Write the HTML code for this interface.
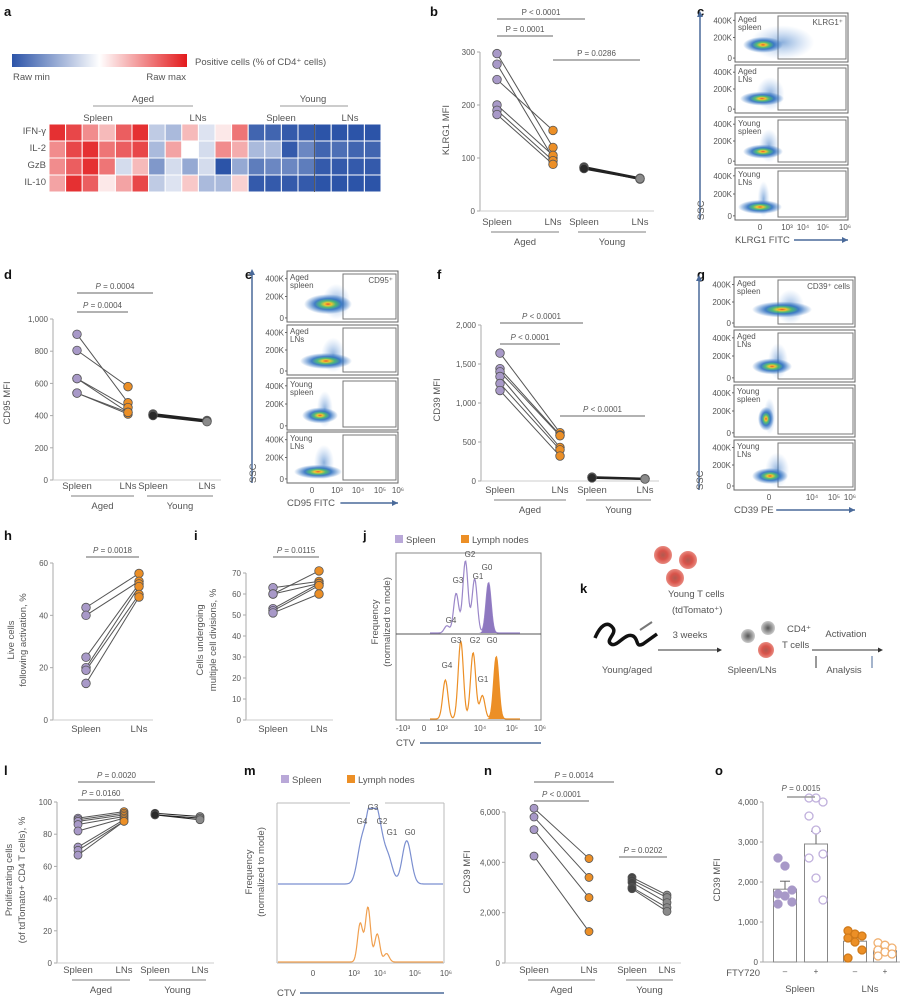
<!DOCTYPE html>
<html><head><meta charset="utf-8">
<style>
html,body{margin:0;padding:0;background:#fff;}
svg{display:block;font-family:"Liberation Sans",sans-serif;}
text{fill:#555;}
.let{font-weight:bold;font-size:13px;fill:#111;}
.tk{font-size:8px;}
.lb{font-size:9.5px;}
</style></head>
<body>
<svg id="fig" width="905" height="1000" viewBox="0 0 905 1000" xmlns="http://www.w3.org/2000/svg">
<defs>
<linearGradient id="cbar" x1="0" x2="1"><stop offset="0" stop-color="#2c54a8"/><stop offset="0.5" stop-color="#ffffff"/><stop offset="1" stop-color="#e31a1c"/></linearGradient>
<radialGradient id="blob"><stop offset="0" stop-color="#e8401c"/><stop offset="0.15" stop-color="#f2c21a"/><stop offset="0.33" stop-color="#3fb56a"/><stop offset="0.55" stop-color="#2d6fc0"/><stop offset="1" stop-color="#2d6fc0" stop-opacity="0"/></radialGradient>
<radialGradient id="blob2"><stop offset="0" stop-color="#2d6fc0" stop-opacity="0.55"/><stop offset="1" stop-color="#6fa0e0" stop-opacity="0"/></radialGradient>
<radialGradient id="cellR"><stop offset="0" stop-color="#b05a50"/><stop offset="0.5" stop-color="#d9534a"/><stop offset="1" stop-color="#e88a80"/></radialGradient>
<radialGradient id="cellG"><stop offset="0" stop-color="#555"/><stop offset="1" stop-color="#ccc"/></radialGradient>
</defs>
<g id="root"></g>
</svg>
<script>
// ===== Data arrays =====
const heatRows=['IFN-γ','IL-2','GzB','IL-10'];
const heatIFN=[.95,.9,.75,.65,.85,.95,.35,.3,.65,.42,.55,.8,.05,.05,.02,.02,0,0,0,0];
const heatIL2=[.75,.9,.95,.8,.85,.9,.3,.7,.5,.4,.75,.68,.3,.3,.02,.15,.05,.08,.05,.05];
const heatGZB=[.75,.85,.95,.8,.4,.65,.2,.4,.25,.4,0,.25,.12,.15,.15,.12,.02,.02,.02,.02];
const heatIL10=[.7,.95,.85,.55,.7,.9,.35,.42,.62,.3,.3,.6,.02,.02,.02,.02,0,0,0,0];

const catLabels4=['Spleen','LNs','Spleen','LNs'];
const catLabels2=['Spleen','LNs'];
const groupLabels=['Aged','Young'];

const bTicks=[0,100,200,300];
const bAgedSpleen=[297,277,248,200,190,182];
const bAgedLN=[120,100,152,105,95,88];
const bYoungSpleen=[83,82,80];
const bYoungLN=[62,60,61];

const dTicks=[0,200,400,600,800,1000];
const dAgedSpleen=[905,805,630,630,540,540];
const dAgedLN=[480,580,450,420,410,420];
const dYoungSpleen=[410,405,400];
const dYoungLN=[370,365,362];

const fTicks=[0,500,1000,1500,2000];
const fAgedSpleen=[1640,1440,1400,1340,1250,1160];
const fAgedLN=[620,590,580,430,400,320];
const fYoungSpleen=[50,45,40];
const fYoungLN=[30,28,25];

const hTicks=[0,20,40,60];
const hSpleen=[43,40,24,20,19,14];
const hLN=[56,53,52,51,48,47];

const iTicks=[0,10,20,30,40,50,60,70];
const iSpleen=[63,60,60,53,52,51];
const iLN=[66,71,65,65,64,60];

const lTicks=[0,20,40,60,80,100];
const lAgedSpleen=[90,89,88,86,82,72,70,67];
const lAgedLN=[94,93,92,91,90,89,88,88];
const lYoungSpleen=[93,92,92];
const lYoungLN=[91,90,89];

const nTicks=[0,2000,4000,6000];
const nAgedSpleen=[6150,5800,5300,4250];
const nAgedLN=[4150,3400,2600,1250];
const nYoungSpleen=[3400,3300,3200,3000,2950];
const nYoungLN=[2700,2600,2400,2200,2050];

const oTicks=[0,1000,2000,3000,4000];
const oMeans=[1820,2950,520,280];
const oSEM=[200,320,90,60];
const oSplMinus=[2600,2400,1800,1700,1650,1500,1450];
const oSplPlus=[4100,4100,4000,3650,3300,2700,2600,2100,1550];
const oLNMinus=[780,700,650,600,500,300,100];
const oLNPlus=[480,420,350,300,250,200,150];

// histogram peaks: [log-position (CTV decade units), relative height]
const jSpleenPeaks=[[2.95,0.1],[3.25,0.55],[3.55,1.0],[3.85,0.75],[4.3,0.7]];
const jLNPeaks=[[2.9,0.5],[3.4,1.0],[3.8,0.85],[4.1,0.3],[4.55,0.8]];
const mSpleenPeaks=[[3.25,0.55],[3.55,1.0],[3.8,0.7],[4.1,0.35],[4.7,0.6]];
const mLNPeaks=[[3.2,0.55],[3.45,0.78],[3.75,0.4],[4.05,0.12]];

// ===== helpers =====
const NS='http://www.w3.org/2000/svg';
const root=document.getElementById('root');
function mk(tag,attrs,parent,txt){const e=document.createElementNS(NS,tag);for(const k in attrs)e.setAttribute(k,attrs[k]);if(txt!==undefined)e.textContent=txt;(parent||root).appendChild(e);return e;}
function txt(x,y,s,cls,anchor,parent,extra){const a={x:x,y:y,class:cls||'tk','text-anchor':anchor||'start'};if(extra)for(const k in extra)a[k]=extra[k];return mk('text',a,parent,s);}
function fmt(v){return v>=1000?v.toLocaleString('en-US'):String(v);}
function letter(s,x,y){const t=txt(x,y,s,'let');}

// ===== Panel a: heatmap =====
letter('a',4,16);
const gA=mk('g',{});


const cb=mk('rect',{x:12,y:54,width:175,height:13,fill:'url(#cbar)'},gA);


txt(195,65,'Positive cells (% of CD4⁺ cells)','lb','start',gA);
txt(13,80,'Raw min','lb','start',gA);
txt(186,80,'Raw max','lb','end',gA);
txt(143,102,groupLabels[0],'lb','middle',gA);mk('line',{x1:93,x2:193,y1:106,y2:106,stroke:'#999'},gA);
txt(313,102,groupLabels[1],'lb','middle',gA);mk('line',{x1:280,x2:348,y1:106,y2:106,stroke:'#999'},gA);
txt(98,121,'Spleen','lb','middle',gA);txt(198,121,'LNs','lb','middle',gA);
txt(281,121,'Spleen','lb','middle',gA);txt(350,121,'LNs','lb','middle',gA);
function heatColor(v){let r,g,b;if(v<.5){const t=v/.5;r=44+(255-44)*t;g=84+(255-84)*t;b=168+(255-168)*t;}else{const t=(v-.5)/.5;r=255+(227-255)*t;g=255+(26-255)*t;b=255+(28-255)*t;}return `rgb(${r|0},${g|0},${b|0})`;}
[heatIFN,heatIL2,heatGZB,heatIL10].forEach((row,ri)=>{
  txt(46,131+ri*17+3,heatRows[ri],'lb','end',gA);
  row.forEach((v,ci)=>{
    const c=mk('rect',{x:49+ci*16.6,y:124+ri*17,width:16.6,height:17,fill:heatColor(v),stroke:'#fff','stroke-width':1},gA);
    
    
  });
});
mk('line',{x1:49+16*16.6,x2:49+16*16.6,y1:124,y2:192,stroke:'#333','stroke-width':0.8},gA);

// ===== paired plot =====
const COLS={purple:'#a899c8',orange:'#ec8f26',dark:'#2a2a2a',grey:'#8a8a8a'};
function paired(o){
  const g=mk('g',{});
  
  
  const y=v=>o.y0-(v/o.max)*(o.y0-o.yTop);
  const yMaxTick=o.ticks[o.ticks.length-1];
  mk('line',{x1:o.ax,x2:o.ax,y1:y(yMaxTick),y2:o.y0,stroke:'#aaa'},g);
  mk('line',{x1:o.ax,x2:o.xs[o.xs.length-1]+14,y1:o.y0,y2:o.y0,stroke:'#ccc'},g);
  o.ticks.forEach(t=>{mk('line',{x1:o.ax-3,x2:o.ax,y1:y(t),y2:y(t),stroke:'#aaa'},g);txt(o.ax-5,y(t)+3,fmt(t),'tk','end',g);});
  o.cats.forEach((c,i)=>txt(o.xs[i],o.y0+o.labOff,c,'lb','middle',g));
  if(o.groups){
    [[0,1],[2,3]].forEach((p,gi)=>{const xa=o.xs[p[0]]-6,xb=o.xs[p[1]]+6;
      mk('line',{x1:xa,x2:xb,y1:o.y0+o.labOff+7,y2:o.y0+o.labOff+7,stroke:'#aaa','stroke-width':1.5},g);
      txt((xa+xb)/2,o.y0+o.labOff+20,groupLabels[gi],'lb','middle',g);});
  }
  o.sets.forEach(s=>{
    s.a.forEach((v,k)=>{const l=mk('line',{x1:o.xs[s.i],y1:y(v),x2:o.xs[s.i+1],y2:y(s.b[k]),stroke:s.lc||'#555','stroke-width':s.lw||1},g);
      
      });
  });
  o.sets.forEach(s=>{
    [[s.a,s.i,s.ca],[s.b,s.i+1,s.cb]].forEach(([arr,xi,col])=>arr.forEach(v=>{
      const p=mk('circle',{cx:o.xs[xi],cy:y(v),r:o.r||4.3,fill:col,stroke:'#555','stroke-width':0.8},g);
      
      }));
  });
  (o.sig||[]).forEach(sg=>{
    mk('line',{x1:sg[0],x2:sg[1],y1:sg[2],y2:sg[2],stroke:'#999','stroke-width':1.5},g);
    const t=mk('text',{x:(sg[0]+sg[1])/2,y:sg[2]-4,class:'tk','text-anchor':'middle'},g);
    if(o.italicP){mk('tspan',{'font-style':'italic'},t,'P');mk('tspan',{},t,' '+sg[3]);}else t.textContent='P '+sg[3];
  });
  (o.ylab||[]).forEach(l=>txt(0,0,l[2],'lb','middle',g,{transform:`translate(${l[0]},${l[1]}) rotate(-90)`}));
  return g;
}

// ===== Panel b =====
letter('b',430,16);
paired({name:'klrg1-mfi-chart',ax:480,y0:211,yTop:52,max:300,ticks:bTicks,xs:[497,553,584,640],cats:catLabels4,groups:true,labOff:14,
  sets:[{a:bAgedSpleen,b:bAgedLN,i:0,ca:COLS.purple,cb:COLS.orange},{a:bYoungSpleen,b:bYoungLN,i:2,ca:COLS.dark,cb:COLS.grey,lc:'#222',lw:2}],
  sig:[[497,585,19,'< 0.0001'],[497,553,36,'= 0.0001'],[553,640,60,'= 0.0286']],ylab:[[449,130,'KLRG1 MFI']]});

// ===== flow plot panels =====
function flow(o){
  const g=mk('g',{});
  
  
  o.rows.forEach((r,ri)=>{
    const [t,b]=r;
    mk('rect',{x:o.x1,y:t,width:o.x2-o.x1,height:b-t,fill:'#fff',stroke:'#666','stroke-width':1},g);
    mk('rect',{x:o.gx,y:t+3,width:o.x2-o.gx-2,height:b-t-6,fill:'none',stroke:'#777','stroke-width':1},g);
    const h=b-t;
    [['400K',.15],['200K',.5],['0',.92]].forEach(([s,f])=>{txt(o.x1-3,t+h*f+3,s,'tk','end',g).setAttribute('font-size','6.5');mk('line',{x1:o.x1-2,x2:o.x1,y1:t+h*f,y2:t+h*f,stroke:'#666'},g);});
    const bl=o.blobs[ri];
    if(bl.spread) mk('ellipse',{cx:bl.x+bl.spread*0.6,cy:t+h*0.6,rx:bl.spread,ry:h*0.35,fill:'url(#blob2)'},g);
    mk('ellipse',{cx:bl.x,cy:t+h*bl.y,rx:bl.rx,ry:bl.ry,fill:'url(#blob)',opacity:0.9},g);
    txt(o.x1+3,t+9,o.labels[ri][0],'tk','start',g).setAttribute('font-size','7');
    txt(o.x1+3,t+17,o.labels[ri][1],'tk','start',g).setAttribute('font-size','7');
  });
  if(o.gateLabel) txt(o.x2-5,o.rows[0][0]+12,o.gateLabel,'tk','end',g).setAttribute('font-size','6.5');
  const yb=o.rows[o.rows.length-1][1];
  o.xt.forEach(([s,x])=>txt(x,yb+10,s,'tk','middle',g).setAttribute('font-size','6.5'));
  txt(o.x1,yb+23,o.xlabel,'lb','start',g);
  const tw=o.xlabel.length*5.6;
  mk('line',{x1:o.x1+tw+3,x2:o.x2,y1:yb+20,y2:yb+20,stroke:'#4a6a9a','stroke-width':1.5},g);
  mk('path',{d:`M${o.x2},${yb+20} l-6,-3 v6 z`,fill:'#4a6a9a'},g);
  mk('line',{x1:o.x1-35,x2:o.x1-35,y1:yb,y2:o.rows[0][0]+2,stroke:'#4a6a9a','stroke-width':1.5},g);
  mk('path',{d:`M${o.x1-35},${o.rows[0][0]-2} l-3,6 h6 z`,fill:'#4a6a9a'},g);
  txt(0,0,'SSC','lb','start',g,{transform:`translate(${o.x1-31},${yb}) rotate(-90)`});
}
const flowLabels=[['Aged','spleen'],['Aged','LNs'],['Young','spleen'],['Young','LNs']];
letter('c',697,16);
flow({name:'klrg1-flow-plots',x1:735,x2:848,gx:778,rows:[[13,62],[65,113],[117,165],[168,220]],labels:flowLabels,gateLabel:'KLRG1⁺',xlabel:'KLRG1 FITC',
  xt:[['0',760],['10³',787],['10⁴',803],['10⁵',823],['10⁶',845]],
  blobs:[{x:763,y:.65,rx:20,ry:8,spread:32},{x:762,y:.7,rx:22,ry:7,spread:14},{x:763,y:.72,rx:20,ry:7,spread:10},{x:760,y:.75,rx:22,ry:7,spread:6}]});
letter('e',245,279);
flow({name:'cd95-flow-plots',x1:287,x2:398,gx:343,rows:[[271,322],[325,375],[378,430],[432,483]],labels:flowLabels,gateLabel:'CD95⁺',xlabel:'CD95 FITC',
  xt:[['0',312],['10³',337],['10⁴',358],['10⁵',380],['10⁶',398]],
  blobs:[{x:328,y:.65,rx:24,ry:10,spread:14},{x:326,y:.72,rx:26,ry:8,spread:12},{x:320,y:.72,rx:18,ry:8,spread:8},{x:318,y:.78,rx:24,ry:7,spread:10}]});
letter('g',697,279);
flow({name:'cd39-flow-plots',x1:734,x2:855,gx:778,rows:[[277,327],[330,382],[385,437],[440,490]],labels:flowLabels,gateLabel:'CD39⁺ cells',xlabel:'CD39 PE',
  xt:[['0',769],['10⁴',812],['10⁵',834],['10⁶',850]],
  blobs:[{x:782,y:.65,rx:30,ry:8,spread:14},{x:772,y:.7,rx:20,ry:8,spread:10},{x:766,y:.65,rx:8,ry:12,spread:6},{x:770,y:.72,rx:18,ry:8,spread:12}]});

// ===== Panel d =====
letter('d',4,279);
paired({name:'cd95-mfi-chart',ax:53,y0:480,yTop:319,max:1000,ticks:dTicks,xs:[77,128,153,207],cats:catLabels4,groups:true,labOff:9,italicP:true,
  sets:[{a:dAgedSpleen,b:dAgedLN,i:0,ca:COLS.purple,cb:COLS.orange},{a:dYoungSpleen,b:dYoungLN,i:2,ca:COLS.dark,cb:COLS.grey,lc:'#222',lw:2}],
  sig:[[77,153,293,'= 0.0004'],[77,128,312,'= 0.0004']],ylab:[[10,403,'CD95 MFI']]});

// ===== Panel f =====
letter('f',437,279);
paired({name:'cd39-mfi-chart-aged-young',ax:481,y0:481,yTop:325,max:2000,ticks:fTicks,xs:[500,560,592,645],cats:catLabels4,groups:true,labOff:12,italicP:true,
  sets:[{a:fAgedSpleen,b:fAgedLN,i:0,ca:COLS.purple,cb:COLS.orange},{a:fYoungSpleen,b:fYoungLN,i:2,ca:COLS.dark,cb:COLS.grey,lc:'#222',lw:2}],
  sig:[[500,583,323,'< 0.0001'],[500,560,344,'< 0.0001'],[560,645,416,'< 0.0001']],ylab:[[440,400,'CD39 MFI']]});

// ===== Panel h & i =====
letter('h',4,540);
paired({name:'live-cells-chart',ax:53,y0:720,yTop:563,max:60,ticks:hTicks,xs:[86,139],cats:catLabels2,labOff:12,italicP:true,
  sets:[{a:hSpleen,b:hLN,i:0,ca:COLS.purple,cb:COLS.orange}],sig:[[86,139,557,'= 0.0018']],
  ylab:[[14,640,'Live cells'],[26,640,'following activation, %']]});
letter('i',194,540);
paired({name:'cell-divisions-chart',ax:246,y0:720,yTop:573,max:70,ticks:iTicks,xs:[273,319],cats:catLabels2,labOff:12,italicP:true,
  sets:[{a:iSpleen,b:iLN,i:0,ca:COLS.purple,cb:COLS.orange}],sig:[[273,319,557,'= 0.0115']],
  ylab:[[203,640,'Cells undergoing'],[216,640,'multiple cell divisions, %']]});

// ===== histograms =====
function histPath(peaks,xOf,base,hgt,w,x0,x1){
  let d=`M${x0},${base}`;
  for(let x=x0;x<=x1;x+=0.7){let s=0;peaks.forEach(p=>{const dx=(x-xOf(p[0]))/w;s+=p[1]*Math.exp(-dx*dx/2);});d+=` L${x.toFixed(1)},${(base-Math.min(s,1.05)*hgt).toFixed(1)}`;}
  return d+` L${x1},${base}`;
}
function legend(x,y,g){
  mk('rect',{x:x,y:y-8,width:8,height:8,fill:'#b9a8d8'},g);txt(x+11,y,'Spleen','lb','start',g);
  mk('rect',{x:x+66,y:y-8,width:8,height:8,fill:'#ec8f26'},g);txt(x+77,y,'Lymph nodes','lb','start',g);
}
letter('j',363,540);
const gJ=mk('g',{});


legend(395,543,gJ);
const jx=v=>396+(v-1.3)*(541-396)/(6-1.3);
mk('rect',{x:396,y:553,width:145,height:167,fill:'none',stroke:'#888'},gJ);
mk('line',{x1:396,x2:541,y1:634,y2:634,stroke:'#555'},gJ);
mk('path',{d:histPath(jSpleenPeaks,jx,633,72,2.6,430,520),fill:'none',stroke:'#9b87c9','stroke-width':1.2},gJ);
mk('path',{d:histPath(jSpleenPeaks.slice(4),jx,633,72,2.6,478,520),fill:'#8e78c0',stroke:'none'},gJ);
mk('path',{d:histPath(jLNPeaks,jx,719,78,2.6,430,520),fill:'none',stroke:'#ec8f26','stroke-width':1.2},gJ);
mk('path',{d:histPath(jLNPeaks.slice(4),jx,719,78,2.6,480,520),fill:'#ec8f26',stroke:'none'},gJ);
[['G2',470,557],['G3',458,583],['G1',478,579],['G0',487,570],['G4',451,623],['G3',456,643],['G2',475,643],['G0',492,643],['G4',447,668],['G1',483,682]].forEach(a=>txt(a[1],a[2],a[0],'tk','middle',gJ));
[['-10³',403],['0',424],['10³',442],['10⁴',480],['10⁵',512],['10⁶',540]].forEach(a=>txt(a[1],731,a[0],'tk','middle',gJ));
txt(396,746,'CTV','lb','start',gJ);
mk('line',{x1:420,x2:541,y1:743,y2:743,stroke:'#4a6a9a','stroke-width':1.5},gJ);
txt(0,0,'Frequency','lb','middle',gJ,{transform:'translate(378,622) rotate(-90)'});
txt(0,0,'(normalized to mode)','lb','middle',gJ,{transform:'translate(390,622) rotate(-90)'});

// ===== Panel k schematic =====
letter('k',580,593);
const gK=mk('g',{});


[[663,555],[688,560],[675,578]].forEach(c=>mk('circle',{cx:c[0],cy:c[1],r:9,fill:'url(#cellR)'},gK));
txt(668,597,'Young T cells','lb','start',gK);txt(672,613,'(tdTomato⁺)','lb','start',gK);
mk('path',{d:'M595,638 c5,-12 12,-18 18,-10 c4,6 -8,12 -2,16 c6,4 14,-12 22,-8 c6,3 2,12 10,8 l14,-10',fill:'none',stroke:'#111','stroke-width':3.5},gK);
mk('line',{x1:640,x2:652,y1:630,y2:622,stroke:'#777','stroke-width':2},gK);
txt(690,638,'3 weeks','lb','middle',gK);
mk('line',{x1:658,x2:720,y1:650,y2:650,stroke:'#333'},gK);mk('path',{d:'M722,650 l-5,-2.5 v5 z',fill:'#333'},gK);
mk('circle',{cx:748,cy:636,r:7,fill:'url(#cellG)'},gK);mk('circle',{cx:768,cy:628,r:7,fill:'url(#cellG)'},gK);mk('circle',{cx:766,cy:650,r:8,fill:'url(#cellR)'},gK);
txt(787,632,'CD4⁺','lb','start',gK);txt(782,648,'T cells','lb','start',gK);
txt(846,637,'Activation','lb','middle',gK);
mk('line',{x1:812,x2:880,y1:650,y2:650,stroke:'#333'},gK);mk('path',{d:'M883,650 l-5,-2.5 v5 z',fill:'#333'},gK);
mk('line',{x1:816,x2:816,y1:668,y2:656,stroke:'#333'},gK);mk('line',{x1:872,x2:872,y1:668,y2:656,stroke:'#4a6a9a'},gK);
txt(627,673,'Young/aged','lb','middle',gK);txt(752,673,'Spleen/LNs','lb','middle',gK);txt(844,673,'Analysis','lb','middle',gK);

// ===== Panel l =====
letter('l',4,775);
paired({name:'proliferating-cells-chart',ax:57,y0:963,yTop:802,max:100,ticks:lTicks,xs:[78,124,155,200],cats:catLabels4,groups:true,labOff:10,italicP:true,r:4,
  sets:[{a:lAgedSpleen,b:lAgedLN,i:0,ca:COLS.purple,cb:COLS.orange},{a:lYoungSpleen,b:lYoungLN,i:2,ca:COLS.dark,cb:COLS.grey,lc:'#222'}],
  sig:[[78,155,782,'= 0.0020'],[78,124,800,'= 0.0160']],
  ylab:[[12,880,'Proliferating cells'],[25,880,'(of tdTomato+ CD4 T cells), %']]});

// ===== Panel m =====
letter('m',244,775);
const gM=mk('g',{});


legend(281,783,gM);
const mxs=v=>v<3?313+(v-2)*41:354+(v-3)*((447-354)/3);
mk('line',{x1:277,x2:350,y1:803,y2:803,stroke:'#bbb'},gM);mk('line',{x1:385,x2:444,y1:803,y2:803,stroke:'#bbb'},gM);
mk('line',{x1:277,x2:277,y1:803,y2:963,stroke:'#bbb'},gM);mk('line',{x1:444,x2:444,y1:803,y2:963,stroke:'#bbb'},gM);
mk('line',{x1:277,x2:444,y1:963,y2:963,stroke:'#bbb'},gM);
mk('path',{d:histPath(mSpleenPeaks,mxs,884,72,4.5,278,443),fill:'none',stroke:'#7b8fd0','stroke-width':1.2},gM);
mk('path',{d:histPath(mLNPeaks,mxs,962,70,2.6,278,443),fill:'none',stroke:'#f0a050','stroke-width':1.2},gM);
[['G3',373,810],['G4',362,824],['G2',382,824],['G1',392,835],['G0',410,835]].forEach(a=>txt(a[1],a[2],a[0],'tk','middle',gM));
[['0',313],['10³',354],['10⁴',380],['10⁵',415],['10⁶',446]].forEach(a=>txt(a[1],976,a[0],'tk','middle',gM));
txt(277,996,'CTV','lb','start',gM);
mk('line',{x1:300,x2:444,y1:993,y2:993,stroke:'#4a6a9a','stroke-width':1.5},gM);
txt(0,0,'Frequency','lb','middle',gM,{transform:'translate(252,872) rotate(-90)'});
txt(0,0,'(normalized to mode)','lb','middle',gM,{transform:'translate(264,872) rotate(-90)'});

// ===== Panel n =====
letter('n',484,775);
paired({name:'cd39-mfi-chart-n',ax:505,y0:963,yTop:812,max:6000,ticks:nTicks,xs:[534,589,632,667],cats:catLabels4,groups:true,labOff:10,italicP:true,r:4,
  sets:[{a:nAgedSpleen,b:nAgedLN,i:0,ca:COLS.purple,cb:COLS.orange},{a:nYoungSpleen,b:nYoungLN,i:2,ca:'#444',cb:COLS.grey}],
  sig:[[534,614,782,'= 0.0014'],[534,589,801,'< 0.0001'],[619,667,857,'= 0.0202']],ylab:[[470,872,'CD39 MFI']]});

// ===== Panel o =====
letter('o',715,775);
(function(){
  const g=mk('g',{});
  
  
  const ax=763,y0=962,yTop=802,max=4000;
  const y=v=>y0-(v/max)*(y0-yTop);
  const xs=[785,816,855,885];
  mk('line',{x1:ax,x2:ax,y1:yTop,y2:y0,stroke:'#aaa'},g);
  mk('line',{x1:ax,x2:900,y1:y0,y2:y0,stroke:'#aaa'},g);
  oTicks.forEach(t=>{mk('line',{x1:ax-3,x2:ax,y1:y(t),y2:y(t),stroke:'#aaa'},g);txt(ax-5,y(t)+3,fmt(t),'tk','end',g);});
  oMeans.forEach((m,i)=>{
    const b=mk('rect',{x:xs[i]-11.5,y:y(m),width:23,height:y0-y(m),fill:'#fff',stroke:'#888'},g);
    
    
    mk('line',{x1:xs[i],x2:xs[i],y1:y(m),y2:y(m+oSEM[i]),stroke:'#666'},g);
    mk('line',{x1:xs[i]-5,x2:xs[i]+5,y1:y(m+oSEM[i]),y2:y(m+oSEM[i]),stroke:'#666'},g);
  });
  const sets=[[oSplMinus,'#a899c8','#a899c8'],[oSplPlus,'#fff','#c0b0dc'],[oLNMinus,'#ec8f26','#d07a1a'],[oLNPlus,'#fff','#f0b070']];
  sets.forEach(([arr,fill,st],si)=>arr.forEach((v,k)=>{
    const off=((k%3)-1)*7;
    const c=mk('circle',{cx:xs[si]+off,cy:y(v),r:4,fill:fill,stroke:st,'stroke-width':1.3},g);
    
    
  }));
  mk('line',{x1:787,x2:815,y1:797,y2:797,stroke:'#999','stroke-width':1.5},g);
  const t=mk('text',{x:801,y:791,class:'tk','text-anchor':'middle'},g);mk('tspan',{'font-style':'italic'},t,'P');mk('tspan',{},t,' = 0.0015');
  txt(760,976,'FTY720','lb','end',g);
  ['–','+','–','+'].forEach((s,i)=>txt(xs[i],974,s,'tk','middle',g));
  txt(800,992,'Spleen','lb','middle',g);txt(870,992,'LNs','lb','middle',g);
  txt(0,0,'CD39 MFI','lb','middle',g,{transform:'translate(720,880) rotate(-90)'});
})();
</script>
</body></html>
